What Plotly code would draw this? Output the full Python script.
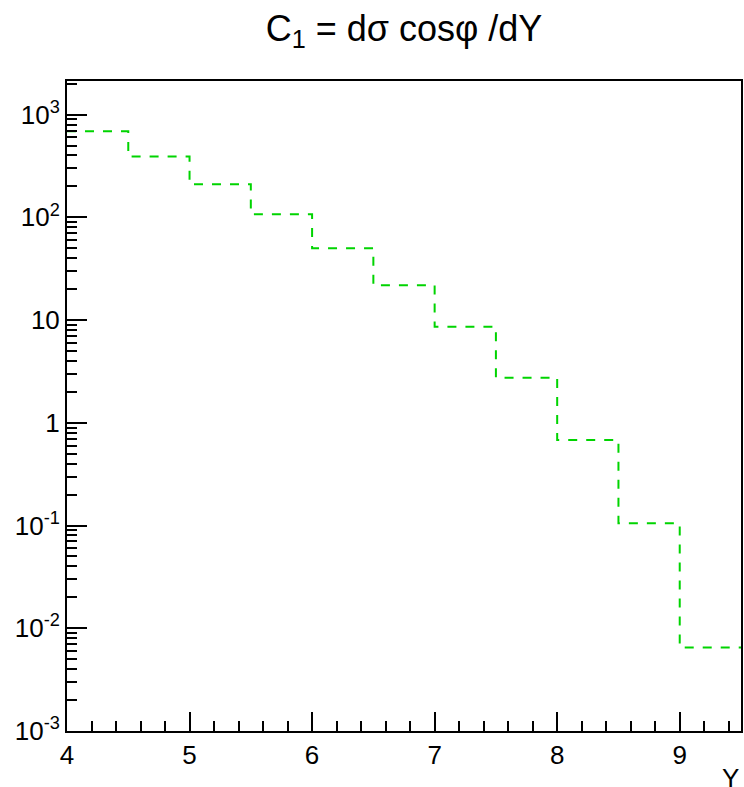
import plotly.graph_objects as go

# Histogram of C1 = dσ cosφ / dY in bins of rapidity Y
bin_edges = [4.0, 4.5, 5.0, 5.5, 6.0, 6.5, 7.0, 7.5, 8.0, 8.5, 9.0, 9.5]
bin_values = [689, 390, 210, 107, 50.1, 21.8, 8.6, 2.75, 0.68, 0.105, 0.0065]

y_tick_vals = [1e-3, 1e-2, 1e-1, 1, 10, 1e2, 1e3]
y_tick_text = ["10<sup>-3</sup>", "10<sup>-2</sup>", "10<sup>-1</sup>", "1", "10",
               "10<sup>2</sup>", "10<sup>3</sup>"]
x_tick_vals = [4, 5, 6, 7, 8, 9]

FONT = "Liberation Sans, Arial, Helvetica, sans-serif"

# minor log ticks 2..9 in every decade
y_minor = [m * 10.0 ** e for e in range(-3, 4) for m in range(2, 10)]
y_minor = [v for v in y_minor if v < 2100]
x_minor = [round(4 + 0.2 * i, 2) for i in range(0, 28)]

# step outline: each bin drawn flat from its left edge to its right edge
step_x = bin_edges
step_y = bin_values + [bin_values[-1]]

fig = go.Figure()
fig.add_trace(go.Scatter(
    x=step_x, y=step_y, mode="lines", line_shape="hv",
    line=dict(color="#00d400", width=2, dash="9px,9px"),
    showlegend=False, hoverinfo="skip",
))

fig.update_layout(
    width=744, height=787,
    margin=dict(l=67, r=1, t=81, b=56),
    paper_bgcolor="white", plot_bgcolor="white",
    font=dict(family=FONT, color="black"),
    title=dict(
        text="C<sub>1</sub> = dσ cosφ /dY",
        x=404 / 744, xanchor="center", xref="container",
        y=1 - 28 / 787, yanchor="middle", yref="container",
        font=dict(size=36, family=FONT, color="black"),
    ),
)

fig.update_xaxes(
    range=[4, 9.5], showgrid=False, zeroline=False,
    showline=True, linecolor="black", linewidth=2, mirror=True,
    ticks="inside", ticklen=19, tickwidth=2, tickcolor="black",
    tickmode="array", tickvals=x_tick_vals,
    tickfont=dict(size=26, family=FONT),
    minor=dict(ticks="inside", ticklen=10, tickwidth=2, tickcolor="black",
               tickmode="array", tickvals=x_minor),
)
fig.update_yaxes(
    type="log", range=[-3, 3.327], showgrid=False, zeroline=False,
    showline=True, linecolor="black", linewidth=2, mirror=True,
    ticks="inside", ticklen=20, tickwidth=2, tickcolor="black",
    tickmode="array", tickvals=y_tick_vals, ticktext=y_tick_text,
    tickfont=dict(size=26, family=FONT),
    minor=dict(ticks="inside", ticklen=10, tickwidth=2, tickcolor="black",
               tickmode="array", tickvals=y_minor),
)

# x-axis title placed at the right end, below the tick labels
fig.add_annotation(
    text="Y", xref="paper", yref="paper", x=1, y=0,
    xanchor="right", yanchor="top", yshift=-30, xshift=0,
    showarrow=False, font=dict(size=26, family=FONT, color="black"),
)

fig.write_html("out.html")
